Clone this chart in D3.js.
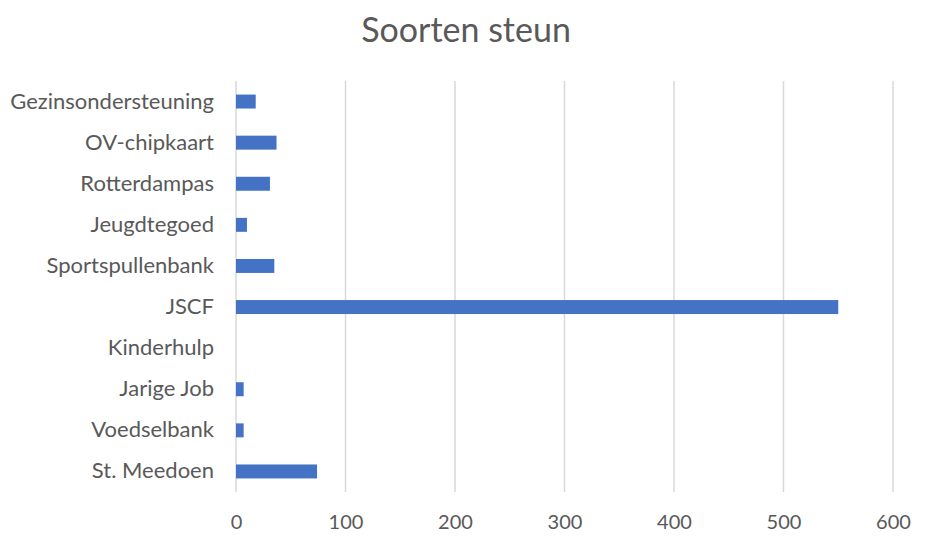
<!DOCTYPE html>
<html lang="nl">
<head>
<meta charset="utf-8">
<title>Soorten steun</title>
<script src="https://d3js.org/d3.v7.min.js"></script>
<style>
  body { margin: 0; background: #fff; }
  text { font-family: Lato, "Open Sans", sans-serif; fill: #595959; }
</style>
</head>
<body>
<div id="chart"></div>
<script>
const width = 929
const height = 538

// data, top to bottom
const categories = ['Gezinsondersteuning', 'OV-chipkaart', 'Rotterdampas', 'Jeugdtegoed',
  'Sportspullenbank', 'JSCF', 'Kinderhulp', 'Jarige Job', 'Voedselbank', 'St. Meedoen']
const values = [18, 37, 31, 10, 35, 550, 0, 7, 7, 74]
const xTicks = [0, 100, 200, 300, 400, 500, 600]

const margin = {top: 81, right: 36, bottom: 46, left: 236}

const svg = d3.select('#chart').append('svg')
  .attr('width', width)
  .attr('height', height)

svg.append('text')
  .attr('x', 466)
  .attr('y', 42)
  .attr('text-anchor', 'middle')
  .style('font-size', '34px')
  .text('Soorten steun')

const xScale = d3.scaleLinear()
  .domain([0, 600])
  .range([margin.left, width - margin.right])

const yScale = d3.scaleBand()
  .domain(categories)
  .range([margin.top, height - margin.bottom])
  .paddingInner(0.66)
  .paddingOuter(0.33)

// gridlines
svg.append('g')
  .selectAll('line')
  .data(xTicks)
  .join('line')
  .attr('x1', d => xScale(d))
  .attr('x2', d => xScale(d))
  .attr('y1', margin.top)
  .attr('y2', height - margin.bottom)
  .attr('stroke', '#d9d9d9')
  .attr('stroke-width', 1.5)

svg.append('g')
  .selectAll('rect')
  .data(values)
  .join('rect')
  .attr('x', xScale(0))
  .attr('y', (d, i) => yScale(categories[i]))
  .attr('width', d => xScale(d) - xScale(0))
  .attr('height', yScale.bandwidth())
  .attr('fill', '#4472c4')

// category labels
const yAxis = d3.axisLeft(yScale).tickSize(0).tickPadding(22)
const yg = svg.append('g')
  .attr('transform', `translate(${margin.left},0)`)
  .call(yAxis)
yg.select('.domain').remove()
yg.selectAll('text').style('font-size', '22px').attr('fill', '#595959')

// value axis labels
const xAxis = d3.axisBottom(xScale).tickValues(xTicks).tickSize(0).tickPadding(23)
const xg = svg.append('g')
  .attr('transform', `translate(0,${height - margin.bottom})`)
  .call(xAxis)
xg.select('.domain').remove()
xg.selectAll('text').style('font-size', '20px').attr('fill', '#595959')
</script>
</body>
</html>
